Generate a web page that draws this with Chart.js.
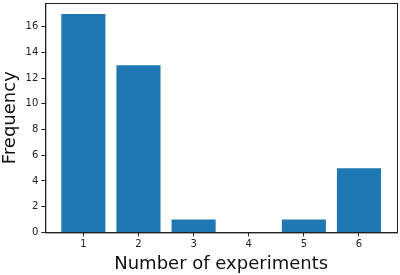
<!DOCTYPE html>
<html>
<head>
<meta charset="utf-8">
<script src="https://cdn.jsdelivr.net/npm/chart.js@4/dist/chart.umd.min.js"></script>
<style>
  html, body { margin: 0; padding: 0; background: #fff; }
</style>
</head>
<body>
<canvas id="expChart" width="400" height="275"></canvas>
<script>
// bar data
const experiments = [1, 2, 3, 4, 5, 6];
const frequency = [17, 13, 1, 0, 1, 5];
const xTicks = [1, 2, 3, 4, 5, 6];
const yTicks = [0, 2, 4, 6, 8, 10, 12, 14, 16];

const frameBox = {
    id: 'frameBox',
    afterDraw: (chart) => {
        const { ctx, chartArea } = chart;
        ctx.save();
        ctx.strokeStyle = '#222';
        ctx.lineWidth = 1;
        ctx.strokeRect(chartArea.left + 0.5, chartArea.top + 0.5,
            chartArea.right - chartArea.left, chartArea.bottom - chartArea.top);
        ctx.restore();
    }
};

const chart = new Chart(document.getElementById('expChart'), {
    type: 'bar',
    data: {
        datasets: [{
            data: experiments.map((x, i) => ({ x: x, y: frequency[i] })),
            backgroundColor: '#1f77b4',
            barPercentage: 0.8,
            categoryPercentage: 1
        }]
    },
    options: {
        responsive: false,
        animation: false,
        layout: { padding: { top: 3, right: 3, left: 0, bottom: 0 } },
        plugins: {
            legend: { display: false },
            tooltip: { enabled: false }
        },
        scales: {
            x: {
                type: 'linear',
                min: 0.31,
                max: 6.69,
                offset: false,
                afterBuildTicks: (scale) => {
                    scale.ticks = xTicks.map(v => ({ value: v }));
                },
                afterFit: (scale) => {
                    scale.paddingLeft = 0;
                    scale.paddingRight = 0;
                },
                grid: { offset: false, drawOnChartArea: false, drawTicks: true, tickLength: 4, color: '#222' },
                border: { display: true, color: '#222' },
                ticks: { color: '#222', font: { family: 'DejaVu Sans', size: 10 }, padding: 2 },
                title: {
                    display: true,
                    text: 'Number of experiments',
                    color: '#111',
                    font: { family: 'DejaVu Sans', size: 18 },
                    padding: { top: 1, bottom: 0 }
                }
            },
            y: {
                min: 0,
                max: 17.85,
                afterBuildTicks: (scale) => {
                    scale.ticks = yTicks.map(v => ({ value: v }));
                },
                afterFit: (scale) => {
                    scale.paddingTop = 0;
                    scale.paddingBottom = 0;
                },
                grid: { drawOnChartArea: false, drawTicks: true, tickLength: 4, color: '#222' },
                border: { display: true, color: '#222' },
                ticks: { color: '#222', font: { family: 'DejaVu Sans', size: 10 }, padding: 3 },
                title: {
                    display: true,
                    text: 'Frequency',
                    color: '#111',
                    font: { family: 'DejaVu Sans', size: 18 },
                    padding: { top: 0, bottom: 1 }
                }
            }
        }
    },
    plugins: [frameBox]
});
</script>
</body>
</html>
